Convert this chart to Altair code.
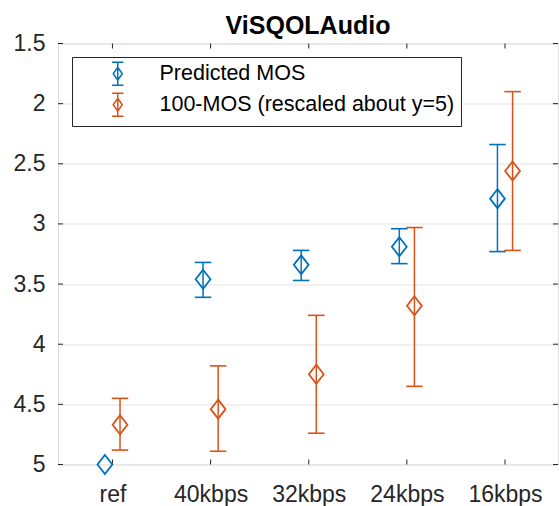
import json
import altair as alt
import pandas as pd

# ---- data ----
categories = ["ref", "40kbps", "32kbps", "24kbps", "16kbps"]
series_names = ["Predicted MOS", "100-MOS (rescaled about y=5)"]
colors = ["#0072BD", "#D95319"]

pred_mean = [5.00, 3.46, 3.34, 3.19, 2.79]
pred_lo = [5.00, 3.32, 3.22, 3.04, 2.34]
pred_hi = [5.00, 3.61, 3.47, 3.33, 3.23]

mos_mean = [4.67, 4.54, 4.25, 3.68, 2.56]
mos_lo = [4.45, 4.18, 3.76, 3.03, 1.90]
mos_hi = [4.88, 4.89, 4.74, 4.35, 3.22]

x_ticks = [1, 2, 3, 4, 5]
y_ticks = [1.5, 2, 2.5, 3, 3.5, 4, 4.5, 5]

# ---- table ----
rows = []
for i, c in enumerate(categories):
    rows.append(dict(cat=c, idx=i + 1, series=series_names[0],
                     mean=pred_mean[i], lo=pred_lo[i], hi=pred_hi[i]))
    rows.append(dict(cat=c, idx=i + 1, series=series_names[1],
                     mean=mos_mean[i], lo=mos_lo[i], hi=mos_hi[i]))
df = pd.DataFrame(rows)

W, H = 500, 421
FONT = "Liberation Sans"
AXC = "#262626"

x_scale = alt.Scale(domain=[0.445, 5.54], nice=False, zero=False)
y_scale = alt.Scale(domain=[1.5, 5], reverse=True, nice=False, zero=False)
color_scale = alt.Scale(domain=series_names, range=colors)

label_expr = json.dumps(categories) + "[datum.value - 1]"

x_axis = alt.Axis(values=x_ticks, labelExpr=label_expr, title=None, grid=False,
                  ticks=False, tickSize=0, domain=False, labelFontSize=23,
                  labelFont=FONT, labelColor=AXC, labelPadding=19)
y_axis = alt.Axis(values=y_ticks, format=".1~f", title=None, grid=True,
                  gridColor="#e3e3e3", gridWidth=1, ticks=False, tickSize=0,
                  domain=False, labelFontSize=23, labelFont=FONT, labelColor=AXC,
                  labelPadding=13)

legend_symbol = ("M-0.62,-1.25H0.62M0,-1.25V1.25M-0.62,1.25H0.62"
                 "M0,-0.71L0.49,0L0,0.71L-0.49,0Z")
diamond = "M0,-1L0.78,0L0,1L-0.78,0Z"

legend = alt.Legend(title=None, orient="none", legendX=14, legendY=13.5,
                    padding=6, strokeColor=AXC, fillColor="white",
                    labelFontSize=21.5, labelFont=FONT, labelColor="black",
                    labelLimit=0, symbolType=legend_symbol, symbolSize=340,
                    symbolStrokeWidth=1.5, symbolOffset=29, labelOffset=31,
                    symbolFillColor="transparent", rowPadding=1)
color_enc = alt.Color("series:N", scale=color_scale, sort=series_names, legend=legend)

base = alt.Chart(df).transform_calculate(
    x="datum.idx + (datum.series == '%s' ? -0.077 : 0.077)" % series_names[0]
).transform_calculate(
    xl="datum.x - 0.084", xr="datum.x + 0.084"
)

bars = base.transform_filter("datum.hi > datum.lo")

err_rule = bars.mark_rule(strokeWidth=1.5).encode(
    x=alt.X("x:Q", scale=x_scale, axis=x_axis),
    y=alt.Y("lo:Q", scale=y_scale, axis=y_axis),
    y2="hi:Q",
    color=color_enc,
)
cap_lo = bars.mark_rule(strokeWidth=1.6).encode(
    x=alt.X("xl:Q", scale=x_scale, axis=x_axis),
    x2="xr:Q",
    y=alt.Y("lo:Q", scale=y_scale, axis=y_axis),
    color=color_enc,
)
cap_hi = bars.mark_rule(strokeWidth=1.6).encode(
    x=alt.X("xl:Q", scale=x_scale, axis=x_axis),
    x2="xr:Q",
    y=alt.Y("hi:Q", scale=y_scale, axis=y_axis),
    color=color_enc,
)

points = base.mark_point(shape=diamond, size=361, filled=False, strokeWidth=1.8, opacity=1).encode(
    x=alt.X("x:Q", scale=x_scale, axis=x_axis),
    y=alt.Y("mean:Q", scale=y_scale, axis=y_axis),
    color=color_enc,
)

xt = pd.DataFrame({"v": x_ticks})
yt = pd.DataFrame({"v": y_ticks})
tl = 5
tick_top = alt.Chart(xt).mark_rule(color=AXC, strokeWidth=1).encode(
    x=alt.X("v:Q", scale=x_scale, axis=x_axis), y=alt.value(0), y2=alt.value(tl))
tick_bot = alt.Chart(xt).mark_rule(color=AXC, strokeWidth=1).encode(
    x=alt.X("v:Q", scale=x_scale, axis=x_axis), y=alt.value(H), y2=alt.value(H - tl))
tick_left = alt.Chart(yt).mark_rule(color=AXC, strokeWidth=1).encode(
    y=alt.Y("v:Q", scale=y_scale, axis=y_axis), x=alt.value(0), x2=alt.value(tl))
tick_right = alt.Chart(yt).mark_rule(color=AXC, strokeWidth=1).encode(
    y=alt.Y("v:Q", scale=y_scale, axis=y_axis), x=alt.value(W), x2=alt.value(W - tl))

chart = alt.layer(
    tick_top, tick_bot, tick_left, tick_right, err_rule, cap_lo, cap_hi, points
).properties(
    width=W, height=H,
    title=alt.Title("ViSQOLAudio", fontSize=25, fontWeight="bold", font=FONT,
                    color="black", anchor="middle", frame="group", offset=-6),
    autosize=alt.AutoSizeParams(type="none"),
    padding={"left": 58, "top": 43.5, "right": 1, "bottom": 41.5},
).configure_view(
    stroke=AXC, strokeWidth=1
).configure(background="white")

chart.save("out.html", embed_options={"renderer": "svg", "actions": False})
